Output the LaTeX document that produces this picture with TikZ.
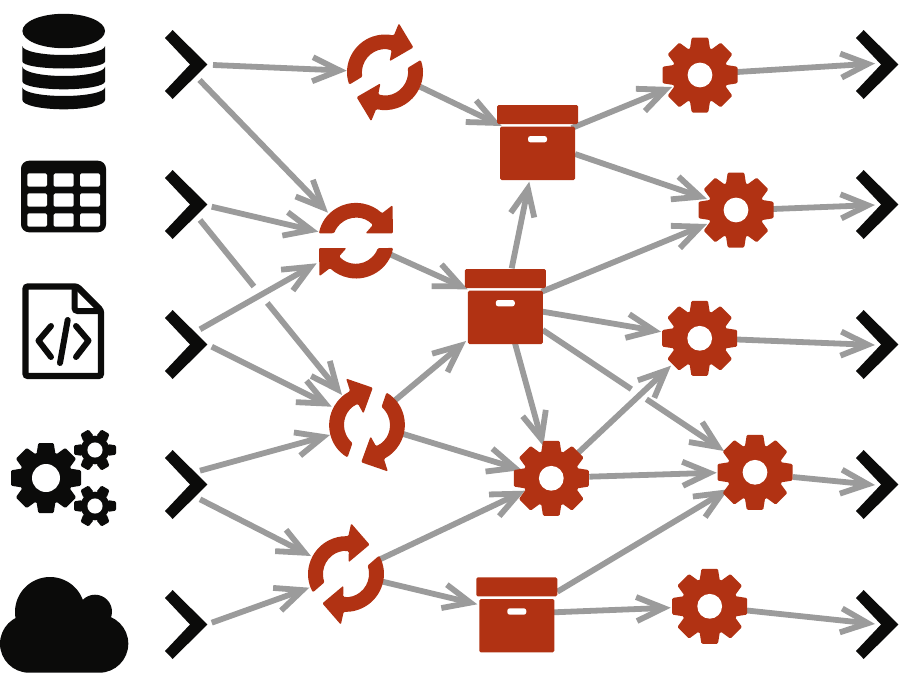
\documentclass[tikz,border=0pt]{standalone}
\usetikzlibrary{arrows.meta,calc}
\definecolor{inkblack}{HTML}{0B0B0A}
\definecolor{inkred}{HTML}{B13213}
\definecolor{inkgrey}{HTML}{9B9B9B}
\tikzset{
  hub/.style={inner sep=0pt,minimum size=0pt,outer sep=0pt},
  link/.style={draw=inkgrey,line width=5.8pt,-{Straight Barb[length=27pt,width=24pt]}},
  linkplain/.style={draw=inkgrey,line width=5.8pt},
}
\newcommand{\conn}[6]{\draw[link] ([shift={(#2,-#3)}]#1.center) -- ([shift={(#5,-#6)}]#4.center);}
% connector with a gap between the two fractions #7 and #8
\newcommand{\gapconn}[8]{%
  \draw[linkplain] ([shift={(#2,-#3)}]#1.center) -- ($([shift={(#2,-#3)}]#1.center)!#7!([shift={(#5,-#6)}]#4.center)$);
  \draw[link] ($([shift={(#2,-#3)}]#1.center)!#8!([shift={(#5,-#6)}]#4.center)$) -- ([shift={(#5,-#6)}]#4.center);}
\newcommand{\drawgear}[6]{\begin{scope}[shift={(#1)},scale=#3]
  \fill[#2] (0,0) circle (#6);
  \foreach \k in {1,...,#4}{\fill[#2,rotate=\k*360/#4,rounded corners=1.2pt] (.62,-.28) -- (1,-.22) -- (1,.22) -- (.62,.28) -- cycle;}
  \fill[white] (0,0) circle (#5);
\end{scope}}
\newcommand{\syncarm}{(169:37.8) arc[start angle=169,end angle=46.5,radius=37.8] -- (36.5,35.5) -- (37,7.3) -- (9.5,7.3) -- (43:23) arc[start angle=43,end angle=161,radius=23] -- cycle}
\newcommand{\drawsync}[2]{\begin{scope}[shift={(#1)},rotate=#2]
  \fill[inkred,rounded corners=1.2pt] \syncarm;
  \begin{scope}[rotate=180]\fill[inkred,rounded corners=1.2pt] \syncarm;\end{scope}
\end{scope}}
\newcommand{\drawbox}[1]{\begin{scope}[shift={(#1)}]
  \fill[inkred,rounded corners=1.5pt] (-40.5,38) rectangle (40.5,19);
  \fill[inkred,rounded corners=1.5pt] (-37.5,16.3) rectangle (37.5,-37);
  \fill[white,rounded corners=2.5pt] (-9.5,7) rectangle (9.5,.6);
\end{scope}}
\newcommand{\drawchevron}[1]{\fill[inkblack,shift={(#1)}] (-14.3,34.5) -- (20.3,0) -- (-14.3,-34.5) -- (-22,-26.5) -- (3,0) -- (-22,26.5) -- cycle;}
\begin{document}
\begin{tikzpicture}[x=1pt,y=1pt]
\useasboundingbox (0,0) rectangle (914,-696);
% anchors of the graph
\node[hub] (L1) at (187,-64.5) {};
\node[hub] (L2) at (187,-204.5) {};
\node[hub] (L3) at (187,-344.5) {};
\node[hub] (L4) at (187,-484.5) {};
\node[hub] (L5) at (187,-624.5) {};
\node[hub] (R1) at (878,-64.5) {};
\node[hub] (R2) at (878,-204.5) {};
\node[hub] (R3) at (878,-344.5) {};
\node[hub] (R4) at (878,-484.5) {};
\node[hub] (R5) at (878,-624.5) {};
\node[hub] (S1) at (385,-72.3) {};
\node[hub] (S2) at (356,-240.7) {};
\node[hub] (S3) at (367,-425) {};
\node[hub] (S4) at (346,-574) {};
\node[hub] (B1) at (537.5,-143) {};
\node[hub] (B2) at (505.3,-307) {};
\node[hub] (B3) at (516.8,-615.3) {};
\node[hub] (G1) at (700,-75) {};
\node[hub] (G2) at (736,-210) {};
\node[hub] (G3) at (699.7,-338.3) {};
\node[hub] (G4) at (551.3,-478.3) {};
\node[hub] (G5) at (755,-472.3) {};
\node[hub] (G6) at (709.7,-606.3) {};
% connectors
\conn{L1}{26}{.5}{S1}{-38.3}{-1.6}
\conn{L1}{12.5}{15.5}{S2}{-28}{-28}
\conn{L2}{24.7}{2.2}{S2}{-37.7}{-9}
\gapconn{L2}{13}{15.5}{S3}{-25}{-30}{.38}{.474}
\conn{L3}{13}{-15.2}{S2}{-39.3}{22.6}
\conn{L3}{24.7}{2.2}{S3}{-35.3}{-18.3}
\conn{L4}{13}{-13.8}{S3}{-37}{10}
\conn{L4}{13}{14.8}{S4}{-35}{-18}
\conn{L5}{24.7}{-1.8}{S4}{-36.7}{13.7}
\conn{S4}{34}{-14.7}{G4}{-26.3}{12.4}
\conn{S4}{36.7}{7.7}{B3}{-39.5}{-11}
\conn{S3}{36.3}{9}{G4}{-29.6}{-8.3}
\conn{S3}{26}{-23}{B2}{-39.3}{34}
\conn{S2}{34}{13.6}{B2}{-37.6}{-17.7}
\conn{S1}{35}{14.4}{B1}{-35.8}{-17}
\conn{B2}{6.4}{-38.7}{B1}{-8.2}{38.7}
\conn{B1}{34.2}{-15}{G1}{-28}{12}
\conn{B1}{37.5}{11}{G2}{-29}{-11}
\conn{B2}{36.4}{-15.3}{G2}{-29}{14}
\conn{B2}{37.4}{4.7}{G3}{-38.7}{-6.6}
\gapconn{B2}{37.4}{23}{G5}{-31}{-21.3}{.489}{.572}
\conn{B2}{9.7}{36.3}{G4}{-8}{-32.3}
\conn{G4}{27}{-25.6}{G3}{-28.7}{27.4}
\conn{G4}{38}{-1.6}{G5}{-38.3}{.4}
\conn{B3}{40.5}{-23.6}{G5}{-26.7}{17}
\conn{B3}{37.2}{-3}{G6}{-39}{1.4}
\conn{G1}{37}{-3}{R1}{-3}{-1}
\conn{G2}{37}{-1}{R2}{-3}{.5}
\conn{G3}{37.3}{1.2}{R3}{-3}{.5}
\conn{G5}{38}{4.7}{R4}{-3}{.5}
\conn{G6}{37.3}{4.2}{R5}{-3}{-.5}
% icons of the graph
\foreach \n in {L1,L2,L3,L4,L5,R1,R2,R3,R4,R5}{\drawchevron{\n}}
\drawsync{S1}{30}
\drawsync{S2}{0}
\drawsync{S3}{70}
\drawsync{S4}{40}
\drawbox{B1}
\drawbox{B2}
\drawbox{B3}
\foreach \n in {G1,G2,G3,G4,G5,G6}{\drawgear{\n}{inkred}{37.5}{8}{.33}{.76}}
% database
\fill[inkblack] (63.7,-31) ellipse (41.3 and 17.2);
\fill[inkblack] (22.4,-46) arc[start angle=180,end angle=360,x radius=41.3,y radius=9] -- (105,-61.5) arc[start angle=0,end angle=-180,x radius=41.3,y radius=7] -- cycle;
\fill[inkblack] (22.4,-66.5) arc[start angle=180,end angle=360,x radius=41.3,y radius=9.5] -- (105,-81.5) arc[start angle=0,end angle=-180,x radius=41.3,y radius=7.8] -- cycle;
\fill[inkblack] (22.4,-87.3) arc[start angle=180,end angle=360,x radius=41.3,y radius=8.7] -- (105,-100) arc[start angle=0,end angle=-180,x radius=41.3,y radius=9.3] -- cycle;
% table
\fill[inkblack,rounded corners=8pt] (21,-160.7) rectangle (106,-232.3);
\foreach \xa/\xb in {27.3/47,53.7/73.7,80/100}{
  \foreach \ya/\yb in {173.3/186.7,193.3/206.7,213.3/226.7}{
    \fill[white,rounded corners=1.5pt] (\xa,-\ya) rectangle (\xb,-\yb);}}
% code file
\draw[inkblack,line width=6.4pt,rounded corners=2.5pt] (25.5,-286.5) -- (77,-286.5) -- (101,-310.5) -- (101,-376) -- (25.5,-376) -- cycle;
\draw[inkblack,line width=6pt,rounded corners=3pt] (74.5,-286.5) -- (74.5,-311) -- (101,-311);
\draw[inkblack,line width=6pt,line cap=round,line join=round] (51,-326) -- (38.5,-340.7) -- (51,-357);
\draw[inkblack,line width=6pt,line cap=round,line join=round] (76,-326) -- (88.5,-340.7) -- (76,-357);
\draw[inkblack,line width=6pt,line cap=round] (67.7,-320) -- (60,-363);
% three gears
\drawgear{46,-478}{inkblack}{35}{8}{.4}{.76}
\drawgear{95,-450}{inkblack}{21}{6}{.36}{.68}
\drawgear{95,-506}{inkblack}{21}{6}{.36}{.68}
% cloud
\fill[inkblack] (50,-612) circle (35);
\fill[inkblack] (95,-611.7) circle (17);
\fill[inkblack,rounded corners=29pt] (0,-614.7) rectangle (128.3,-672.7);
\end{tikzpicture}
\end{document}
